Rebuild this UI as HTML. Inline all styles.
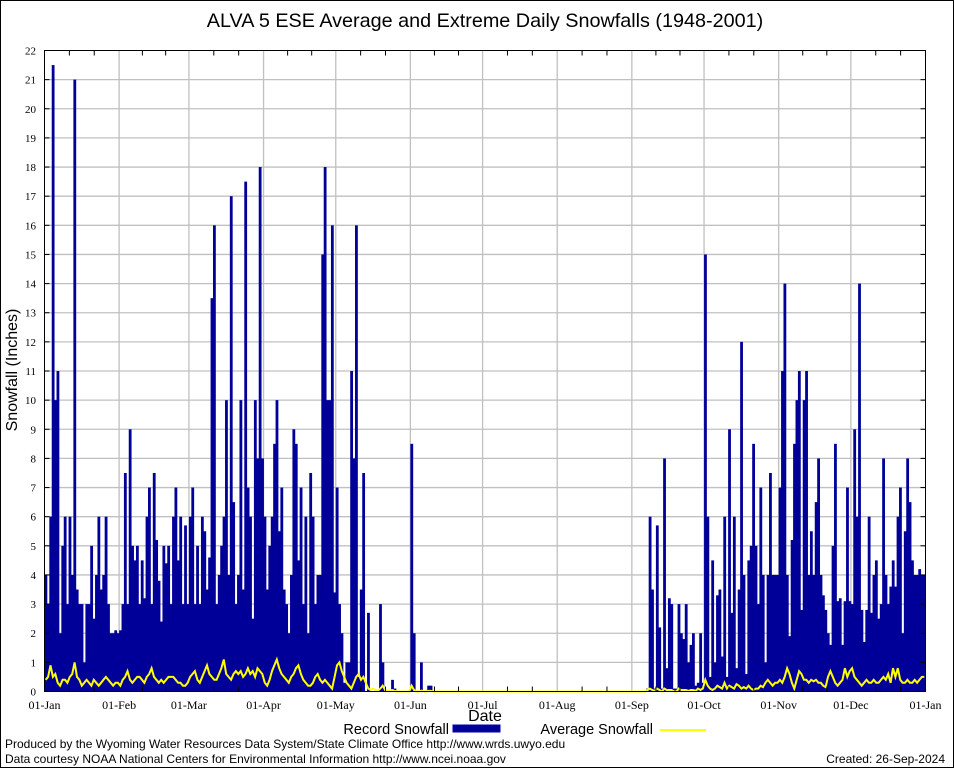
<!DOCTYPE html>
<html><head><meta charset="utf-8"><style>
html,body{margin:0;padding:0;background:#fff;}
svg{display:block;font-family:"Liberation Sans",sans-serif;}
</style></head><body>
<svg id="chart" width="954" height="768" viewBox="0 0 954 768" xmlns="http://www.w3.org/2000/svg">
<rect x="0.5" y="0.5" width="953" height="767" fill="#fff" stroke="#000"/>
<text x="485" y="27" font-size="19.8" text-anchor="middle">ALVA 5 ESE Average and Extreme Daily Snowfalls (1948-2001)</text>
<g id="grid"></g>
<g id="bars"></g>
<g id="avg"></g>
<rect x="44.5" y="50.5" width="881" height="641" fill="none" stroke="#000"/>
<g id="yt" font-size="11" font-family="Liberation Serif, serif"></g>
<g id="xt" font-size="12" font-family="Liberation Serif, serif"></g>
<text x="17" y="370" font-size="16" text-anchor="middle" transform="rotate(-90 17 370)">Snowfall (Inches)</text>
<text x="485" y="721" font-size="16" text-anchor="middle">Date</text>
<g>
<text x="449" y="734" font-size="14.5" text-anchor="end">Record Snowfall</text>
<rect x="453" y="725" width="47" height="7" fill="#000099" stroke="#0000aa"/>
<text x="653" y="734" font-size="14.5" text-anchor="end">Average Snowfall</text>
<line x1="660" y1="730" x2="706" y2="730" stroke="#ffff00" stroke-width="2"/>
</g>
<text x="5" y="748" font-size="12">Produced by the Wyoming Water Resources Data System/State Climate Office http://www.wrds.uwyo.edu</text>
<text x="5" y="763" font-size="12">Data courtesy NOAA National Centers for Environmental Information http://www.ncei.noaa.gov</text>
<text x="945" y="763" font-size="12" text-anchor="end">Created: 26-Sep-2024</text>
</svg>
<script>
const monthLabels=["01-Jan","01-Feb","01-Mar","01-Apr","01-May","01-Jun","01-Jul","01-Aug","01-Sep","01-Oct","01-Nov","01-Dec","01-Jan"];
const yTicks=[0,1,2,3,4,5,6,7,8,9,10,11,12,13,14,15,16,17,18,19,20,21,22];
const recJan=[4,3,6,21.5,10,11,2,5,6,3,6,4,21,3.5,3,3,1,3,3,5,2.5,4,6,3.5,4,6,3,2,2,2.1,2];
const recFeb=[2.1,3,7.5,3,9,5,4.5,5,3,4.5,3.2,6,7,3,7.5,5.2,3.8,2.4,5,4.4,5,3,6,7,4.5,6,3,5.7,3];
const recMar=[6,7,3,5,3,6,5.5,3.5,4.6,13.5,16,3,4,5,6,10,4,17,6.5,3,4,10,3.5,17.5,7,6,2.5,10,8,18,8];
const recApr=[6,3.5,5,6,8.5,10,5.5,7,3.5,3,2,4,9,8.5,4.5,7,3,6,2,7.5,6,3,4,4,15,18,10,10,16,3.4];
const recMay=[7,3,2,0.3,1,1,11,8,16,0.5,3.5,7.5,0,2.7,0,0,0,0,3,1,0,0,0,0.4,0.1,0,0,0,0,0,0];
const recJun=[8.5,2,0,0,1,0,0,0.2,0.2,0,0,0,0,0,0,0,0,0,0,0,0,0,0,0,0,0,0,0,0,0];
const recJul=[0,0,0,0,0,0,0,0,0,0,0,0,0,0,0,0,0,0,0,0,0,0,0,0,0,0,0,0,0,0,0];
const recAug=[0,0,0,0,0,0,0,0,0,0,0,0,0,0,0,0,0,0,0,0,0,0,0,0,0,0,0,0,0,0,0];
const recSep=[0,0,0,0,0,0,0.1,6,3.5,0.1,5.7,2.2,0.1,8,0.8,3.2,3,0.1,0.1,3,2,1.8,3,1,1.6,2,0.2,0.3,2,0.3];
const recOct=[15,6,0.5,4.5,1,3.3,3.5,1.2,6,0.5,9,2.7,6,0.8,3.5,12,4,0.6,4.5,5,8.5,5,3,7,4,1,4,7.5,4,4,4];
const recNov=[7,11,14,4,1.9,5.2,8.5,10,11,2.8,10,11,4,5.5,4,6.5,8,4,3.3,2.8,2,1.6,5,8.5,3.1,3.2,1.6,3.1,7,3.1];
const recDec=[3,9,6,14,2.8,1.7,2.8,6,2.7,4,4.5,2.5,3,8,4,3,3.6,4.5,3.6,6,7,2,5.5,8,6.5,4.5,4,4,4.2,4,4];
const avgJan=[0.4,0.5,0.9,0.5,0.6,0.3,0.2,0.4,0.4,0.3,0.5,0.6,1.0,0.5,0.4,0.2,0.3,0.4,0.3,0.2,0.4,0.3,0.2,0.3,0.4,0.5,0.4,0.3,0.2,0.3,0.3];
const avgFeb=[0.2,0.4,0.5,0.7,0.4,0.3,0.4,0.5,0.5,0.4,0.3,0.5,0.6,0.8,0.5,0.4,0.3,0.4,0.3,0.4,0.5,0.5,0.5,0.4,0.3,0.3,0.2,0.2,0.3];
const avgMar=[0.5,0.6,0.7,0.4,0.3,0.5,0.7,0.9,0.6,0.5,0.4,0.4,0.6,0.8,1.1,0.6,0.5,0.4,0.6,0.7,0.6,0.7,0.5,0.6,0.8,0.6,0.7,0.5,0.8,0.7,0.6];
const avgApr=[0.3,0.2,0.4,0.7,0.9,1.1,0.8,0.6,0.5,0.4,0.3,0.5,0.6,0.8,0.9,0.6,0.4,0.3,0.2,0.2,0.3,0.5,0.6,0.4,0.3,0.4,0.3,0.2,0.1,0.5];
const avgMay=[0.9,1.0,0.7,0.5,0.3,0.2,0.1,0.3,0.5,0.6,0.4,0.5,0.3,0.1,0.05,0.1,0.05,0.03,0.1,0.2,0.05,0.02,0.02,0.05,0.02,0,0,0,0,0,0];
const avgJun=[0.2,0.05,0,0,0.03,0,0,0.02,0.02,0,0,0,0,0,0,0,0,0,0,0,0,0,0,0,0,0,0,0,0,0];
const avgJul=[0,0,0,0,0,0,0,0,0,0,0,0,0,0,0,0,0,0,0,0,0,0,0,0,0,0,0,0,0,0,0];
const avgAug=[0,0,0,0,0,0,0,0,0,0,0,0,0,0,0,0,0,0,0,0,0,0,0,0,0,0,0,0,0,0,0];
const avgSep=[0,0,0,0,0,0,0.05,0.1,0.05,0.02,0.1,0.05,0,0.1,0.05,0.05,0.05,0,0,0.1,0.05,0.05,0.05,0.02,0.05,0.05,0.02,0.1,0.05,0.1];
const avgOct=[0.4,0.2,0.1,0.05,0.1,0.2,0.15,0.1,0.3,0.1,0.2,0.15,0.1,0.25,0.2,0.1,0.15,0.1,0.2,0.1,0.05,0.1,0.1,0.2,0.15,0.3,0.4,0.3,0.2,0.3,0.3];
const avgNov=[0.4,0.3,0.5,0.8,0.6,0.3,0.1,0.4,0.7,0.6,0.4,0.4,0.3,0.4,0.35,0.4,0.3,0.3,0.2,0.15,0.5,0.7,0.5,0.3,0.2,0.3,0.4,0.8,0.5,0.7];
const avgDec=[0.8,0.5,0.4,0.3,0.2,0.3,0.4,0.3,0.3,0.4,0.3,0.3,0.4,0.5,0.4,0.6,0.3,0.8,0.5,0.8,0.4,0.3,0.3,0.4,0.3,0.3,0.4,0.3,0.4,0.5,0.5];

const record=[].concat(recJan,recFeb,recMar,recApr,recMay,recJun,recJul,recAug,recSep,recOct,recNov,recDec);
const average=[].concat(avgJan,avgFeb,avgMar,avgApr,avgMay,avgJun,avgJul,avgAug,avgSep,avgOct,avgNov,avgDec);
const monthLens=[recJan,recFeb,recMar,recApr,recMay,recJun,recJul,recAug,recSep,recOct,recNov,recDec].map(a=>a.length);

const NS="http://www.w3.org/2000/svg";
const X0=44.5,X1=925.5,Y0=691.5,Y1=50.5,YMAX=22,NDAYS=366;
function xS(d){return X0+(X1-X0)*d/NDAYS;}
function yS(v){return Y0-(Y0-Y1)*v/YMAX;}
function mk(tag,attrs,parent){const e=document.createElementNS(NS,tag);for(const k in attrs)e.setAttribute(k,attrs[k]);parent.appendChild(e);return e;}

const grid=document.getElementById('grid'),yt=document.getElementById('yt'),xt=document.getElementById('xt');
yTicks.forEach(v=>{
  const y=yS(v);
  if(v>0&&v<YMAX){const l=mk('line',{x1:X0,x2:X1,y1:y,y2:y,stroke:'#c0c0c0','stroke-width':1.3},grid);
  
  }
  const t=mk('text',{x:36,y:y+4,'text-anchor':'end'},yt);t.textContent=v;
  
  
  const tk=mk('line',{x1:X0,x2:X0+5,y1:y,y2:y,stroke:'#000'},yt);
  
  
  const tk2=mk('line',{x1:X1-5,x2:X1,y1:y,y2:y,stroke:'#000'},yt);
  
  
});
let cum=0;
monthLabels.forEach((lab,i)=>{
  const x=xS(cum);
  if(i>0&&i<12){const l=mk('line',{x1:x,x2:x,y1:Y1,y2:Y0,stroke:'#c0c0c0','stroke-width':1.3},grid);
  
  }
  const t=mk('text',{x:x,y:709,'text-anchor':'middle'},xt);t.textContent=lab;
  
  
  if(i<12){[10,20].forEach(o=>{const xx=xS(cum+o*monthLens[i]/30);
    const a=mk('line',{x1:xx,x2:xx,y1:Y1,y2:Y1+5,stroke:'#000'},xt);
    
    
    const b=mk('line',{x1:xx,x2:xx,y1:Y0-5,y2:Y0,stroke:'#000'},xt);
    
    });
    cum+=monthLens[i];}
});
const bars=document.getElementById('bars');
const w=(X1-X0)/NDAYS;
record.forEach((v,d)=>{
  if(v<=0)return;
  const r=mk('rect',{x:xS(d),y:yS(v),width:w+0.4,height:Y0-yS(v),fill:'#000099'},bars);
  
  
});
const pts=average.map((v,d)=>xS(d+0.5).toFixed(1)+','+yS(v).toFixed(1)).join(' ');
const pl=mk('polyline',{points:pts,fill:'none',stroke:'#ffff00','stroke-width':2},document.getElementById('avg'));


</script>
</body></html>
